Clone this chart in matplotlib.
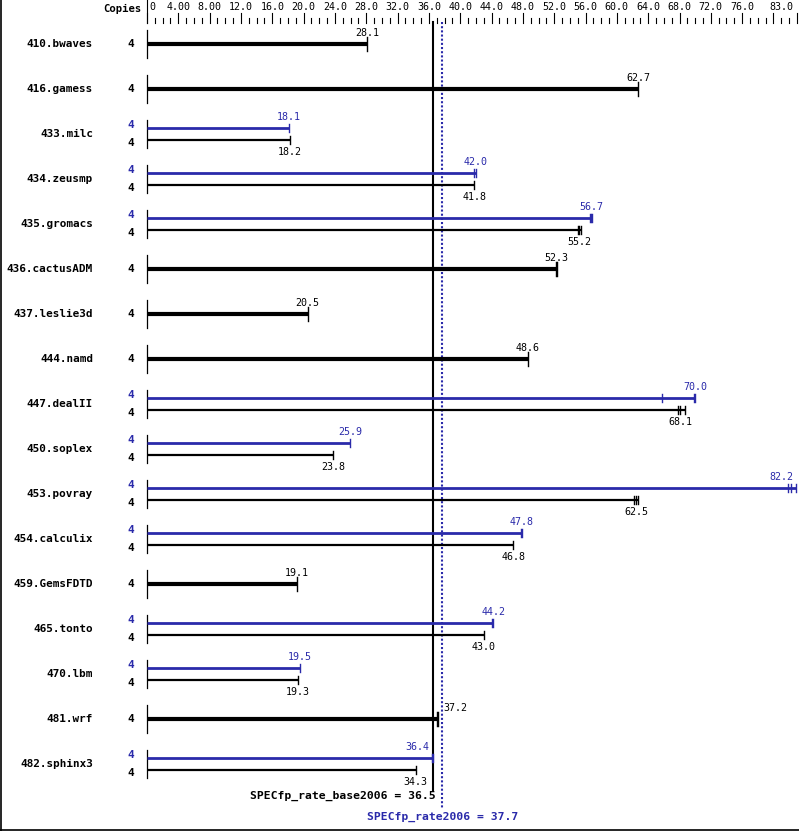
import matplotlib

matplotlib.use("Agg")

import matplotlib.pyplot as plt
from matplotlib.transforms import blended_transform_factory

benchmarks = [
    "410.bwaves", "416.gamess", "433.milc", "434.zeusmp", "435.gromacs",
    "436.cactusADM", "437.leslie3d", "444.namd", "447.dealII", "450.soplex",
    "453.povray", "454.calculix", "459.GemsFDTD", "465.tonto", "470.lbm",
    "481.wrf", "482.sphinx3",
]
copies = [4] * len(benchmarks)
base_ratio = [28.1, 62.7, 18.2, 41.8, 55.2, 52.3, 20.5, 48.6, 68.1, 23.8,
              62.5, 46.8, 19.1, 43.0, 19.3, 37.2, 34.3]
peak_ratio = [None, None, 18.1, 42.0, 56.7, None, None, None, 70.0, 25.9,
              82.2, 47.8, None, 44.2, 19.5, None, 36.4]
base_runs = [
    [28.1], [62.7], [18.2], [41.8], [55.0, 55.2, 55.4], [52.2, 52.3], [20.5],
    [48.6], [67.8, 68.1, 68.7], [23.8], [62.2, 62.5, 62.7], [46.8], [19.1],
    [43.0], [19.3], [37.0, 37.2], [34.3],
]
peak_runs = [
    None, None, [18.1], [41.8, 42.0], [56.6, 56.7, 56.8], None, None, None,
    [65.8, 69.8, 70.0], [25.9], [81.9, 82.2, 82.9], [47.8, 47.9], None,
    [44.0, 44.2], [19.5], None, [36.4, 36.5],
]
tick_labels = ["0", "4.00", "8.00", "12.0", "16.0", "20.0", "24.0", "28.0",
               "32.0", "36.0", "40.0", "44.0", "48.0", "52.0", "56.0", "60.0",
               "64.0", "68.0", "72.0", "76.0", "83.0"]
tick_values = [0, 4, 8, 12, 16, 20, 24, 28, 32, 36, 40, 44, 48, 52, 56, 60,
               64, 68, 72, 76, 83]
base_mean = 36.5
peak_mean = 37.7

BLUE = "#2a2aaa"
BLACK = "#000000"
MONO = "DejaVu Sans Mono"

W, H = 799, 831
x0_px, scale = 147, 7.831

fig = plt.figure(figsize=(W / 100, H / 100), dpi=100)
ax = fig.add_axes([0, 0, 1, 1])
ax.set_xlim(-x0_px / scale, (W - x0_px) / scale)
ax.set_ylim(H, 0)
ax.axis("off")
lab = blended_transform_factory(ax.transAxes, ax.transData)


def px(p):
    return p / W


# frame
ax.plot([0.5 / W, 0.5 / W], [0, 1], transform=ax.transAxes, color="black", lw=1.2, clip_on=False)
ax.plot([0, 1], [1.2 / H, 1.2 / H], transform=ax.transAxes, color="black", lw=1.2, clip_on=False)

# header scale
ax.text(px(142), 9, "Copies", transform=lab, ha="right", va="center",
        family=MONO, fontweight="bold", fontsize=7.6)
ax.plot([0, 0], [0, 23], color="black", lw=0.8)
for v in range(0, 84):
    top = 13 if v % 4 == 0 or v == 83 else 18
    ax.plot([v, v], [top, 23], color="black", lw=0.8)
for v, t in zip(tick_values, tick_labels):
    ha = "left" if v == 0 else ("right" if v == 83 else "center")
    xv = v + 0.3 if v == 0 else (v - 0.5 if v == 83 else v)
    ax.text(xv, 7, t, ha=ha, va="center", family=MONO, fontsize=7.2)

# mean lines
ax.plot([base_mean, base_mean], [22, 790], color="black", lw=1.5, zorder=1)
ax.plot([peak_mean, peak_mean], [22, 808], color=BLUE, lw=1.5,
        dashes=(1, 1), zorder=1)


def draw_bar(y, med, runs, color, lw, tick_half, label_dy, ha="center", dx=0.0):
    end = max(runs)
    ax.plot([0, end], [y, y], color=color, lw=lw, solid_capstyle="butt", zorder=3)
    for r in runs:
        ax.plot([r, r], [y - tick_half, y + tick_half], color=color, lw=1.0, zorder=3)
    ax.text(med + dx, y + label_dy, f"{med:.1f}", ha=ha, va="center",
            family=MONO, fontsize=7.2, color=color)


# label placement tweaks where the value would hit the edge or the mean lines
peak_label_pos = {"453.povray": ("right", 0.3), "482.sphinx3": ("right", -0.3)}
base_label_pos = {"481.wrf": ("left", 0.7)}

for i, name in enumerate(benchmarks):
    yc = 44 + 45 * i
    ax.plot([0, 0], [yc - 14, yc + 14], color="black", lw=0.9, zorder=3)
    ax.text(px(93), yc, name, transform=lab, ha="right", va="center",
            family=MONO, fontweight="bold", fontsize=7.9)
    bha, bdx = base_label_pos.get(name, ("center", 0.0))
    if peak_ratio[i] is None:
        ax.text(px(134), yc, str(copies[i]), transform=lab, ha="right", va="center",
                family=MONO, fontweight="bold", fontsize=7.9)
        draw_bar(yc, base_ratio[i], base_runs[i], BLACK, 3.0, 7, -11, ha=bha, dx=bdx)
    else:
        ax.text(px(134), yc - 9, str(copies[i]), transform=lab, ha="right", va="center",
                family=MONO, fontweight="bold", fontsize=7.9, color=BLUE)
        ax.text(px(134), yc + 9, str(copies[i]), transform=lab, ha="right", va="center",
                family=MONO, fontweight="bold", fontsize=7.9)
        pha, pdx = peak_label_pos.get(name, ("center", 0.0))
        draw_bar(yc - 6, peak_ratio[i], peak_runs[i], BLUE, 2.0, 4, -11, ha=pha, dx=pdx)
        draw_bar(yc + 6, base_ratio[i], base_runs[i], BLACK, 1.6, 4, 12, ha=bha, dx=bdx)

ax.text(base_mean + 0.4, 796, f"SPECfp_rate_base2006 = {base_mean}", ha="right",
        va="center", family=MONO, fontweight="bold", fontsize=8.2)
ax.text(peak_mean, 817, f"SPECfp_rate2006 = {peak_mean}", ha="center",
        va="center", family=MONO, fontweight="bold", fontsize=8.2, color=BLUE)

fig.savefig("out.png", dpi=100)
